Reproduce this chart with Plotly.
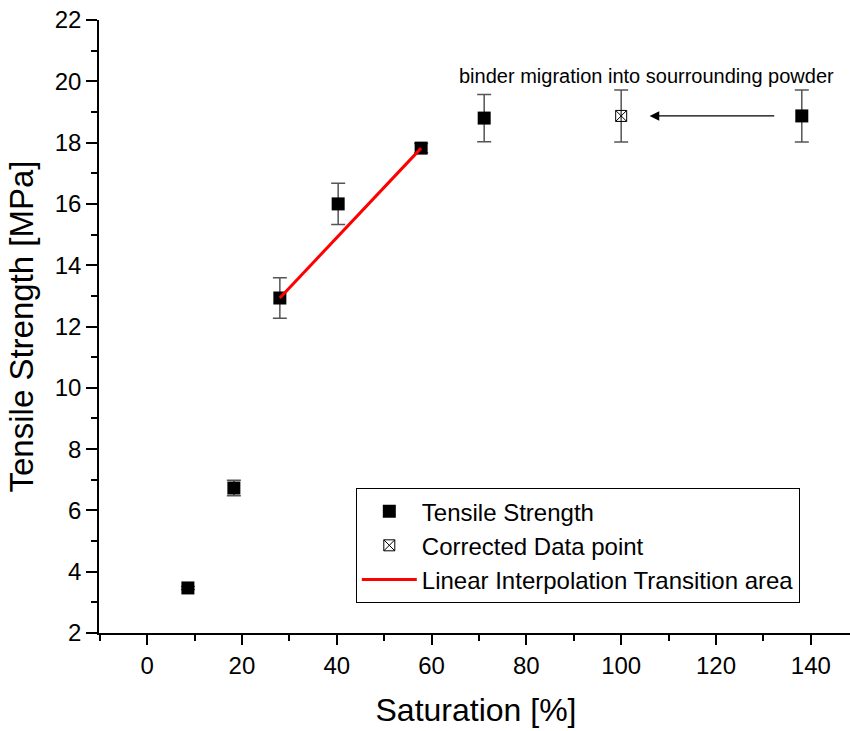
import plotly.graph_objects as go

# Data
sat = [8.6, 18.3, 28.0, 40.3, 57.8, 71.1, 138.1]
ts = [3.47, 6.73, 12.93, 16.0, 17.82, 18.8, 18.87]
ts_err = [0.05, 0.25, 0.66, 0.67, 0.15, 0.77, 0.85]

corr_sat = [100.0]
corr_ts = [18.87]
corr_err = [0.85]

lin_sat = [28.0, 57.8]
lin_ts = [12.93, 17.82]

x_ticks = [0, 20, 40, 60, 80, 100, 120, 140]
y_ticks = list(range(2, 23, 2))

annot_text = "binder migration into sourrounding powder"

FONT = "Liberation Sans, Arial, sans-serif"
XR = [-10.15, 148.9]
YR = [2, 22]

fig = go.Figure()
fig.add_trace(go.Scatter(
    x=sat, y=ts, mode="markers", name="Tensile Strength",
    marker=dict(symbol="square", size=13, color="black"),
    error_y=dict(type="data", array=ts_err, visible=True, color="#555", thickness=1.5, width=7),
))
fig.add_trace(go.Scatter(
    x=corr_sat, y=corr_ts, mode="markers", name="Corrected Data point",
    marker=dict(symbol="square-x-open", size=11, color="black", line=dict(width=1)),
    error_y=dict(type="data", array=corr_err, visible=True, color="#555", thickness=1.5, width=7),
))
fig.add_trace(go.Scatter(
    x=lin_sat, y=lin_ts, mode="lines", name="Linear Interpolation Transition area",
    line=dict(color="red", width=3),
))

fig.add_annotation(
    x=corr_sat[0] + 6, y=corr_ts[0], ax=sat[-1] - 5.5, ay=ts[-1],
    xref="x", yref="y", axref="x", ayref="y",
    text="", showarrow=True, arrowhead=2, arrowsize=1.6, arrowwidth=1.2, arrowcolor="black",
)
fig.add_annotation(
    x=105.4, y=20.17, xref="x", yref="y", text=annot_text, showarrow=False,
    font=dict(family=FONT, size=20, color="black"),
)

common = dict(showgrid=False, zeroline=False, showline=True, linecolor="black", linewidth=1.5,
              tickcolor="black", tickwidth=1.5)

fig.update_layout(
    width=856, height=731,
    margin=dict(l=99, r=3, t=20, b=98),
    plot_bgcolor="white", paper_bgcolor="white",
    font=dict(family=FONT, color="black"),
    showlegend=True,
    legend=dict(
        x=0.3406, y=0.2365, xanchor="left", yanchor="top",
        bordercolor="black", borderwidth=1, bgcolor="white",
        font=dict(family=FONT, size=24, color="black"),
        tracegroupgap=0, itemsizing="trace", itemwidth=55,
    ),
    xaxis=dict(
        range=XR, tickmode="array", tickvals=x_ticks, **common,
        ticks="outside", ticklen=10,
        minor=dict(tickvals=[-10, 10, 30, 50, 70, 90, 110, 130], ticks="outside", ticklen=6, tickwidth=1.5, tickcolor="black"),
        tickfont=dict(family=FONT, size=24),
        title=dict(text="Saturation [%]", font=dict(family=FONT, size=32), standoff=21),
    ),
    xaxis2=dict(
        range=XR, overlaying="x", side="top", tickmode="array", tickvals=x_ticks, **common,
        ticks="inside", ticklen=10, showticklabels=False,
        minor=dict(tickvals=[-10, 10, 30, 50, 70, 90, 110, 130], ticks="inside", ticklen=6, tickwidth=1.5, tickcolor="black"),
    ),
    yaxis=dict(
        range=YR, tickmode="array", tickvals=y_ticks, **common,
        ticks="outside", ticklen=11,
        minor=dict(tickvals=list(range(3, 22, 2)), ticks="outside", ticklen=6, tickwidth=1.5, tickcolor="black"),
        tickfont=dict(family=FONT, size=24),
        title=dict(text="Tensile Strength [MPa]", font=dict(family=FONT, size=33), standoff=11),
    ),
    yaxis2=dict(
        range=YR, overlaying="y", side="right", tickmode="array", tickvals=y_ticks, **common,
        ticks="inside", ticklen=10, showticklabels=False,
        minor=dict(tickvals=list(range(3, 22, 2)), ticks="inside", ticklen=6, tickwidth=1.5, tickcolor="black"),
    ),
)

fig.write_html(
    "out.html",
    config={"displayModeBar": False},
    post_script="document.body.style.margin='0';document.body.style.overflow='hidden';",
)
